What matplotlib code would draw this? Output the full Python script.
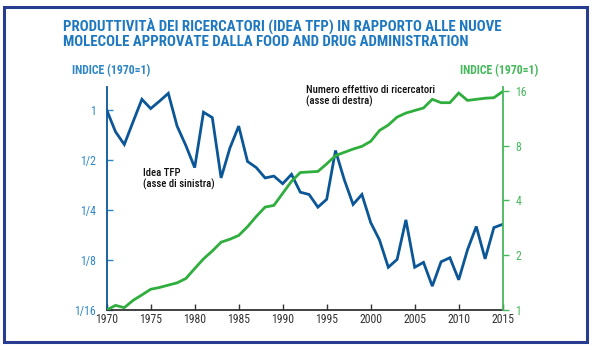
import numpy as np
import matplotlib
matplotlib.use('Agg')
import matplotlib.pyplot as plt
from matplotlib.patches import Rectangle

# Daten
anni = list(range(1970, 2016))
idea_tfp = [1.00, 0.74, 0.62, 0.85, 1.16, 1.02, 1.13, 1.26, 0.80, 0.61,
            0.45, 0.97, 0.90, 0.39, 0.59, 0.80, 0.49, 0.45, 0.39, 0.40,
            0.36, 0.41, 0.32, 0.31, 0.26, 0.29, 0.57, 0.38, 0.27, 0.31,
            0.21, 0.165, 0.113, 0.126, 0.218, 0.113, 0.121, 0.087, 0.122, 0.129,
            0.095, 0.144, 0.199, 0.127, 0.196, 0.205]
ricercatori = [1.00, 1.06, 1.03, 1.13, 1.21, 1.30, 1.33, 1.37, 1.41, 1.49,
               1.69, 1.91, 2.11, 2.36, 2.45, 2.57, 2.87, 3.27, 3.68, 3.76,
               4.38, 5.10, 5.70, 5.74, 5.78, 6.36, 7.06, 7.36, 7.67, 7.94,
               8.46, 9.71, 10.4, 11.5, 12.1, 12.5, 12.9, 14.4, 13.8, 13.8,
               15.6, 14.2, 14.4, 14.6, 14.7, 15.9]

ticks_sx = [1/16, 1/8, 1/4, 1/2, 1]
labels_sx = ['1/16', '1/8', '1/4', '1/2', '1']
ticks_dx = [1, 2, 4, 8, 16]
labels_dx = ['1', '2', '4', '8', '16']
ticks_x = [1970, 1975, 1980, 1985, 1990, 1995, 2000, 2005, 2010, 2015]

blu = '#0b5697'
blu_chiaro = '#2f86c6'
verde = '#2fae3e'
verde_chiaro = '#45b95a'
grigio = '#333333'
plt.rcParams['font.family'] = ['Roboto Condensed', 'DejaVu Sans']

fig = plt.figure(figsize=(5.94, 3.5), dpi=100)
fig.patches.append(Rectangle((4/594, 8/350), 583/594, 335/350, transform=fig.transFigure,
                             fill=False, edgecolor='#283c91', linewidth=2.2))

ax = fig.add_axes([106.7/594, 40/350, 396/594, 223/350])
ax.plot(anni, idea_tfp, color=blu, lw=2.0, solid_joinstyle='miter')
ax.set_yscale('log', base=2)
ax.set_ylim(1/16, 2**0.46)
ax.set_xlim(1970, 2015)
ax.set_yticks(ticks_sx)
ax.set_yticklabels(labels_sx)
ax.minorticks_off()
ax.set_xticks(ticks_x)
ax.tick_params(axis='y', colors=blu_chiaro, direction='in', length=4, width=1, labelsize=8.5, pad=8)
ax.tick_params(axis='x', colors=grigio, direction='in', length=4, width=1, labelsize=8.5, pad=2)
ax.spines['left'].set_color(blu)
ax.spines['left'].set_linewidth(1.3)
ax.spines['bottom'].set_color(grigio)
ax.spines['bottom'].set_linewidth(1.3)
ax.spines['top'].set_visible(False)
ax.spines['right'].set_visible(False)

ax2 = ax.twinx()
ax2.plot(anni, ricercatori, color=verde, lw=2.0, solid_joinstyle='miter')
ax2.set_yscale('log', base=2)
ax2.set_ylim(1, 2**4.073)
ax2.set_yticks(ticks_dx)
ax2.set_yticklabels(labels_dx)
ax2.minorticks_off()
ax2.tick_params(axis='y', colors=verde_chiaro, direction='out', length=4, width=1, labelsize=8.5, pad=5)
ax2.spines['right'].set_color(verde_chiaro)
ax2.spines['right'].set_linewidth(1.3)
for s in ['top', 'left', 'bottom']:
    ax2.spines[s].set_visible(False)

# Titel und Beschriftungen
fig.text(63/594, 1 - 33/350, 'PRODUTTIVITÀ DEI RICERCATORI (IDEA TFP) IN RAPPORTO ALLE NUOVE\n'
         'MOLECOLE APPROVATE DALLA FOOD AND DRUG ADMINISTRATION',
         color='#1e78c0', fontsize=10.7, fontweight='bold', va='center', ha='left', linespacing=1.1)
fig.text(72/594, 1 - 71/350, 'INDICE (1970=1)', color=blu_chiaro, fontsize=8.5,
         fontweight='bold', va='center', ha='left')
fig.text(538/594, 1 - 71/350, 'INDICE (1970=1)', color=verde_chiaro, fontsize=8.5,
         fontweight='bold', va='center', ha='right')
fig.text(306/594, 1 - 96/350, 'Numero effettivo di ricercatori\n(asse di destra)',
         color='#111111', fontsize=7.7, fontweight='medium', va='center', ha='left', linespacing=1.15)
fig.text(143/594, 1 - 179/350, 'Idea TFP\n(asse di sinistra)',
         color='#111111', fontsize=7.7, fontweight='medium', va='center', ha='left', linespacing=1.15)

plt.savefig('out.png', dpi=100)
